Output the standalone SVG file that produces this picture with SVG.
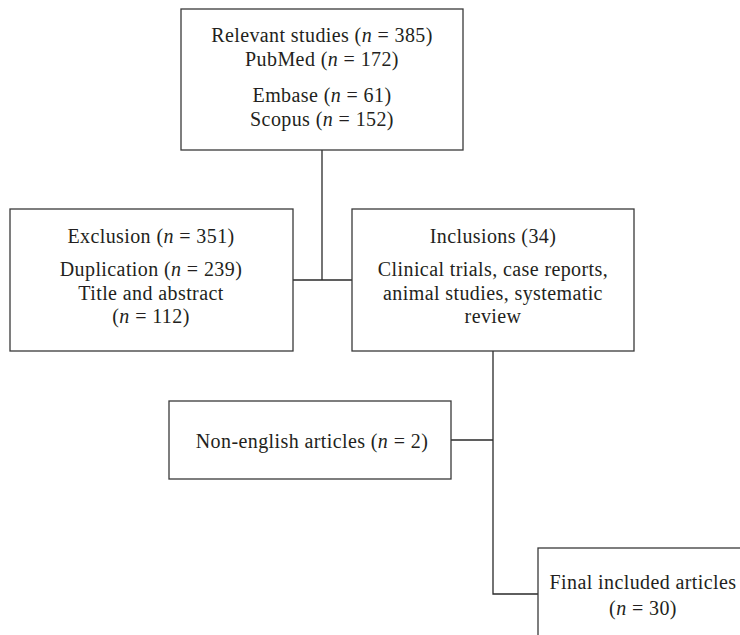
<svg xmlns="http://www.w3.org/2000/svg" width="740" height="635" viewBox="0 0 740 635">
  <style>
    .box { fill: #ffffff; stroke: #3a3a3a; stroke-width: 1.3; }
    .link { fill: none; stroke: #2a2a2a; stroke-width: 1.3; }
    text { font-family: "Liberation Serif", "Times New Roman", serif; font-size: 20px; letter-spacing: 0.4px; fill: #231f20; text-anchor: middle; }
    .it { font-style: italic; }
  </style>
  <rect width="740" height="635" fill="#ffffff"/>

  <g id="connectors">
    <path class="link" d="M322 150 V280"/>
    <path class="link" d="M293 280 H352"/>
    <path class="link" d="M493 351 V594 H538"/>
    <path class="link" d="M451 440 H493"/>
  </g>

  <g id="relevant">
    <rect class="box" x="181" y="9" width="282" height="141"/>
    <text x="322" y="42">Relevant studies (<tspan class="it">n</tspan> = 385)</text>
    <text x="322" y="66">PubMed (<tspan class="it">n</tspan> = 172)</text>
    <text x="322" y="102">Embase (<tspan class="it">n</tspan> = 61)</text>
    <text x="322" y="126">Scopus (<tspan class="it">n</tspan> = 152)</text>
  </g>

  <g id="exclusion">
    <rect class="box" x="10" y="209" width="283" height="142"/>
    <text x="151" y="243">Exclusion (<tspan class="it">n</tspan> = 351)</text>
    <text x="151" y="276">Duplication (<tspan class="it">n</tspan> = 239)</text>
    <text x="151" y="300">Title and abstract</text>
    <text x="151" y="323">(<tspan class="it">n</tspan> = 112)</text>
  </g>

  <g id="inclusions">
    <rect class="box" x="352" y="209" width="282" height="142"/>
    <text x="493" y="243">Inclusions (34)</text>
    <text x="493" y="276">Clinical trials, case reports,</text>
    <text x="493" y="300">animal studies, systematic</text>
    <text x="493" y="323">review</text>
  </g>

  <g id="non-english">
    <rect class="box" x="169" y="401" width="282" height="78"/>
    <text x="312" y="448">Non-english articles (<tspan class="it">n</tspan> = 2)</text>
  </g>

  <g id="final">
    <rect class="box" x="538" y="548" width="220" height="100"/>
    <text x="643" y="589">Final included articles</text>
    <text x="643" y="615">(<tspan class="it">n</tspan> = 30)</text>
  </g>
</svg>
